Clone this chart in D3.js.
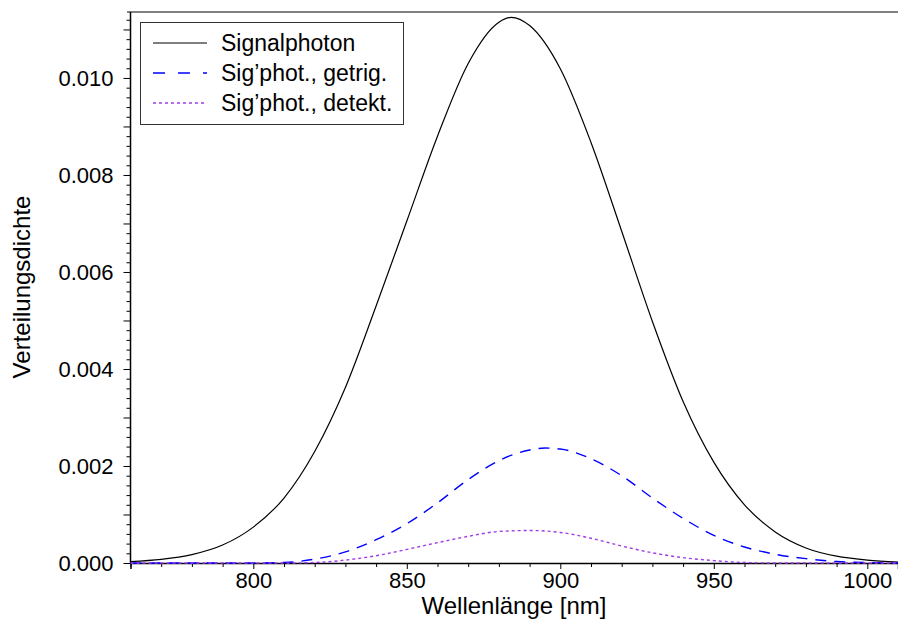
<!DOCTYPE html>
<html>
<head>
<meta charset="utf-8">
<script src="https://cdn.jsdelivr.net/npm/d3@7"></script>
<style>
  body { margin: 0; background: #fff; }
  text { font-family: "Liberation Sans", Arial, Helvetica, sans-serif; fill: #000; }
</style>
</head>
<body>
<div id="vis"></div>
<script>
var w = 898;
var h = 628;

// wavelength [nm] and density values
var signalNm  = [760, 770, 780, 790, 800, 810, 820, 830, 840, 850, 860, 870, 880, 884, 890, 900, 910, 920, 930, 940, 950, 960, 970, 980, 990, 1000, 1010];
var signalVal = [0.00003, 0.000075, 0.000173, 0.00037, 0.00074, 0.00134, 0.00230, 0.00362, 0.00530, 0.00705, 0.00880, 0.01030, 0.01115, 0.01125, 0.01108, 0.01019, 0.00867, 0.00684, 0.00498, 0.00333, 0.00208, 0.00120, 0.00064, 0.00031, 0.00014, 0.00006, 0.00002];

var getrigNm  = [760, 800, 810, 820, 830, 840, 850, 860, 870, 880, 890, 895, 900, 910, 920, 930, 940, 950, 960, 970, 980, 990, 1000, 1010];
var getrigVal = [0, 0, 0.00001, 0.00008, 0.00023, 0.00048, 0.00081, 0.00124, 0.00172, 0.00211, 0.00233, 0.00237, 0.00235, 0.00215, 0.00180, 0.00134, 0.00092, 0.00057, 0.00033, 0.00018, 0.00009, 0.00003, 0.00001, 0];

var detektNm  = [760, 810, 820, 830, 840, 850, 860, 870, 880, 890, 900, 910, 920, 930, 940, 950, 960, 970, 1010];
var detektVal = [0, 0, 0.00001, 0.00006, 0.00015, 0.00028, 0.00042, 0.00055, 0.00065, 0.00067, 0.00063, 0.00051, 0.00035, 0.00021, 0.00011, 0.00005, 0.00001, 0, 0];

var xTicks = [800, 850, 900, 950, 1000];
var yTicks = [0, 0.002, 0.004, 0.006, 0.008, 0.010];

var legendLabels = ["Signalphoton", "Sig\u2019phot., getrig.", "Sig\u2019phot., detekt."];

var svg = d3.select("#vis")
    .append("svg")
    .attr("width", w)
    .attr("height", h);

var x = d3.scaleLinear().domain([760, 1010]).range([130.5, 898]);
var y = d3.scaleLinear().domain([0, 0.01136]).range([563, 12]);

//rand boven
svg.append("line")
    .attr("x1", 127).attr("x2", w)
    .attr("y1", 12).attr("y2", 12)
    .attr("stroke", "#808080")
    .attr("stroke-width", 2);

//kleine ticks x
var xMinor = d3.range(760, 1011, 10).filter(function(d) { return d % 50 != 0; });
svg.append("g")
    .attr("transform", "translate(0,563)")
    .call(d3.axisBottom(x).tickValues(xMinor).tickSize(4).tickFormat(""))
    .call(function(g) { g.select(".domain").remove(); });

//x as
svg.append("g")
    .attr("transform", "translate(0,563)")
    .call(d3.axisBottom(x).tickValues(xTicks).tickSize(6).tickPadding(3).tickFormat(d3.format("d")))
    .call(function(g) {
        g.select(".domain").attr("stroke", "#000").attr("stroke-width", 1.5);
        g.selectAll("text").style("font-size", "22px").attr("font-family", null);
    });

//kleine ticks y
var yMinor = d3.range(0, 57).map(function(i) { return i * 0.0002; }).filter(function(d, i) { return i % 5 != 0; });
var yMid = [0.001, 0.003, 0.005, 0.007, 0.009, 0.011];
svg.append("g")
    .attr("transform", "translate(130.5,0)")
    .call(d3.axisLeft(y).tickValues(yMinor).tickSize(4).tickFormat(""))
    .call(function(g) { g.select(".domain").remove(); });
svg.append("g")
    .attr("transform", "translate(130.5,0)")
    .call(d3.axisLeft(y).tickValues(yMid).tickSize(7).tickFormat(""))
    .call(function(g) { g.select(".domain").remove(); });

//y as
svg.append("g")
    .attr("transform", "translate(130.5,0)")
    .call(d3.axisLeft(y).tickValues(yTicks).tickSize(7).tickPadding(10).tickFormat(d3.format(".3f")))
    .call(function(g) {
        g.select(".domain").attr("d", "M0,563V12").attr("stroke", "#000").attr("stroke-width", 1.5);
        g.selectAll("text").style("font-size", "22px").attr("font-family", null);
    });

//aslabels
svg.append("text")
    .text("Wellenl\u00e4nge [nm]")
    .attr("x", 514)
    .attr("y", 613.5)
    .attr("text-anchor", "middle")
    .style("font-size", "24px");

svg.append("text")
    .text("Verteilungsdichte")
    .attr("transform", "translate(30,287) rotate(-90)")
    .attr("text-anchor", "middle")
    .style("font-size", "24px");

//lijnen
var line = d3.line()
    .x(function(d) { return x(d[0]); })
    .y(function(d) { return y(d[1]); })
    .curve(d3.curveMonotoneX);

var series = [
    { nm: signalNm, val: signalVal, color: "#000000", dash: null, width: 1.2 },
    { nm: getrigNm, val: getrigVal, color: "#0000ff", dash: "11,8", width: 1.4 },
    { nm: detektNm, val: detektVal, color: "#a03be8", dash: "3,3", width: 1.4 }
];

series.forEach(function(s) {
    svg.append("path")
        .datum(d3.zip(s.nm, s.val))
        .attr("d", line)
        .attr("fill", "none")
        .attr("stroke", s.color)
        .attr("stroke-width", s.width)
        .attr("stroke-dasharray", s.dash);
});

//legenda
svg.append("rect")
    .attr("x", 140.5).attr("y", 22.5)
    .attr("width", 263).attr("height", 102)
    .attr("fill", "#fff")
    .attr("stroke", "#333")
    .attr("stroke-width", 1);

series.forEach(function(s, i) {
    var ly = 43 + i * 30;
    svg.append("line")
        .attr("x1", 153).attr("x2", 207)
        .attr("y1", ly).attr("y2", ly)
        .attr("stroke", i == 0 ? "#555" : s.color)
        .attr("stroke-width", 1.3)
        .attr("stroke-dasharray", i == 1 ? "12,13" : s.dash);
    svg.append("text")
        .text(legendLabels[i])
        .attr("x", 221)
        .attr("y", ly + 8)
        .style("font-size", "23px");
});
</script>
</body>
</html>
